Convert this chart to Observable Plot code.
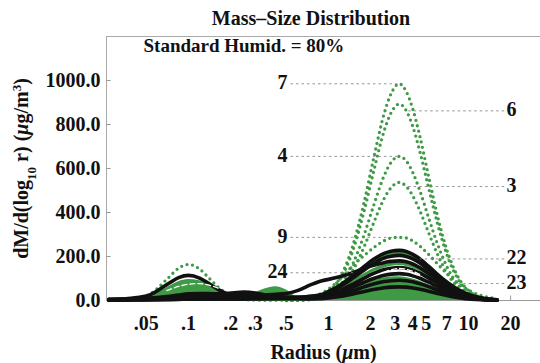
<!DOCTYPE html>
<html><head><meta charset="utf-8">
<script src="https://cdn.jsdelivr.net/npm/d3@7"></script>
<script src="https://cdn.jsdelivr.net/npm/@observablehq/plot@0.6"></script>
<style>
body{margin:0;background:#fff;}
#title{box-sizing:border-box;height:34px;padding-top:8px;margin-left:102px;width:418px;text-align:center;font:bold 20px/20px "Liberation Serif",serif;color:#111;white-space:nowrap;}
</style></head><body>
<div id="title">Mass–Size Distribution</div>
<div id="chart"></div>
<script>
// radius grid (µm)
const radius = [0.027,0.05,0.07,0.085,0.1,0.12,0.14,0.17,0.2,0.25,0.3,0.35,0.42,0.5,0.6,0.75,0.9,1.0,1.2,1.5,1.8,2.1,2.5,2.8,3.2,3.6,4.0,4.5,5.2,6.0,7.0,8.5,10.5,13,16];
const _ = null;
// green dotted series
const s7 = [_,_,_,_,_,_,_,_,_,_,_,_,_,0,1,7,22,40,101,254,449,645,850,940,985,949,871,745,562,386,231,103,35,10,2];
const s6 = [_,_,_,_,_,_,_,_,_,_,_,_,_,0,1,6,20,36,92,230,408,586,772,853,893,862,791,676,510,351,210,93,32,9,2];
const s4 = [_,_,_,_,_,_,_,_,_,_,_,_,_,0,1,5,14,27,67,170,300,431,568,628,655,634,582,498,375,258,155,69,24,6,1];
const s3 = [_,_,_,_,_,_,_,_,_,_,_,_,_,0,1,4,12,22,55,139,245,352,464,513,537,518,476,407,307,211,126,56,19,5,1];
const s9 = [0,22,96,147,164,143,102,51,22,5,2,1,1,2,6,16,34,52,95,160,205,240,272,284,287,284,271,247,209,167,123,77,40,19,8];
// green filled series
const gArea = [0,18,58,85,95,90,78,45,18,8,35,52,62,48,15,6,14,22,40,62,80,94,103,107,108,105,98,88,72,56,40,24,11,4,1];
// green solid series
const g1 = [0,2,4,5,6,6,6,5,5,5,5,4,4,4,5,10,20,32,62,108,146,176,203,212,215,210,198,178,146,113,79,45,21,9,3];
const g2 = [0,2,3,4,5,5,5,5,5,5,5,5,5,5,6,14,26,36,58,90,118,140,158,165,168,164,155,140,116,90,64,38,18,7,2];
// black series
const blk1 = [2,20,72,104,114,102,77,44,24,12,10,9,10,11,13,17,28,41,68,114,155,187,214,224,228,223,210,189,155,119,84,48,23,9,3];
const blk2 = [3,8,15,20,24,24,22,20,22,28,26,20,14,12,14,20,26,37,62,103,139,168,193,201,205,200,189,170,139,107,75,43,20,8,3];
const blk3 = [2,5,8,10,12,14,14,16,18,20,22,24,28,32,45,72,90,96,108,126,146,160,172,178,180,176,166,149,122,94,66,38,18,7,2];
const blk4 = [5,10,18,25,30,32,32,30,34,38,34,26,18,14,14,16,20,27,45,75,102,123,141,147,150,147,138,124,102,79,55,32,15,6,2];
const blk5 = [3,6,9,10,12,12,12,12,14,16,18,18,16,14,12,10,15,22,37,61,83,100,115,120,122,119,112,101,83,64,45,26,12,5,2];
const blk6 = [2,3,4,5,6,6,6,6,6,6,7,8,8,8,8,8,11,16,27,45,62,75,86,90,92,90,85,76,63,48,34,19,9,4,1];
const blk7 = [6,8,10,12,14,16,18,20,26,30,28,22,16,12,10,8,8,11,18,30,41,50,58,61,62,61,57,51,42,32,23,13,6,3,1];
// white dashed trace
const w1 = [_,_,45,64,74,77,70,52,_,_,_,_,_,_,_,_,_,_,_,_,_,_,128,140,146,142,133,118,_,_,_,_,_,_,_];

// axis ticks
const xTicks = [0.05,0.1,0.2,0.3,0.5,1,2,3,4,5,7,10,20];
const yTicks = [0,200,400,600,800,1000];

// curve labels
const labelNames = ["7","6","4","3","9","22","24","23"];
const labelSeries = ["7","6","4","3","9","blk1","blk3","9"];
const labelAtRadius = [3.2,3.6,3.2,3.6,3.2,4.5,1.5,8.5];
const labelSide = ["left","right","left","right","left","right","left","right"];

const GREEN = "#3f9a45";
const FONT = "'Liberation Serif', 'Times New Roman', serif";
const X_MIN = 0.02596, X_MAX = 32.7, Y_MAX = 1200;
const fmtX = d => d < 1 ? String(d).replace(/^0/, "") : String(d);

const series = [
  {name:"gArea", kind:"area", values:gArea},
  {name:"g1", kind:"green", values:g1},
  {name:"g2", kind:"green", values:g2},
  {name:"7", kind:"dot", values:s7},
  {name:"6", kind:"dot", values:s6},
  {name:"4", kind:"dot", values:s4},
  {name:"3", kind:"dot", values:s3},
  {name:"9", kind:"dot", values:s9},
  {name:"blk1", kind:"black", values:blk1},
  {name:"blk2", kind:"black", values:blk2},
  {name:"blk3", kind:"black", values:blk3},
  {name:"blk4", kind:"black", values:blk4},
  {name:"blk5", kind:"black", values:blk5},
  {name:"blk6", kind:"black", values:blk6},
  {name:"blk7", kind:"black", values:blk7},
  {name:"w1", kind:"white", values:w1}
];
const rows = series.flatMap(s => radius.map((r, i) => ({r, v: s.values[i], name: s.name, kind: s.kind})));
const of = k => rows.filter(d => d.kind === k);

const labels = labelNames.map((n, i) => {
  const s = series.find(d => d.name === labelSeries[i]);
  const r = labelAtRadius[i];
  const v = s.values[radius.indexOf(r)];
  const left = labelSide[i] === "left";
  return {name: n, r, v, left, textR: left ? 0.51 : 18.7, lineR: left ? 0.535 : 18.0};
});

const txt = {fontFamily: FONT, fontWeight: "bold", fontSize: 20, fill: "#111"};

const svg = Plot.plot({
  width: 540, height: 329,
  marginLeft: 106, marginRight: 0, marginTop: 2, marginBottom: 63,
  style: {fontFamily: FONT, fontSize: "20px", fontWeight: "bold", background: "#fff", color: "#111", overflow: "visible"},
  x: {type: "log", domain: [X_MIN, X_MAX], ticks: xTicks, tickSize: 0, tickPadding: 14,
      tickFormat: () => "",
      label: "Radius (μm)", labelAnchor: "center", labelOffset: 58, labelArrow: "none"},
  y: {domain: [0, Y_MAX], ticks: yTicks, tickSize: 0, tickPadding: 6, tickFormat: d3.format(".1f"),
      label: "dM/d(log10 r) (μg/m3)", labelAnchor: "center", labelOffset: 93, labelArrow: "none"},
  marks: [
    Plot.ruleY([Y_MAX], {stroke: "#aaa", strokeWidth: 1}),
    Plot.ruleX([X_MIN], {stroke: "#aaa", strokeWidth: 1}),
    Plot.ruleY([0], {stroke: "#999", strokeWidth: 1}),
    Plot.ruleX(xTicks, {y1: 0, y2: 20, stroke: "#999"}),
    Plot.ruleY(yTicks.filter(d => d > 0), {x1: X_MIN, x2: X_MIN * 1.08, stroke: "#999"}),
    Plot.text(xTicks, {x: d => d, y: 0, text: fmtX, dy: 23, lineAnchor: "middle", ...txt}),
    Plot.areaY(of("area"), {x: "r", y: "v", z: "name", fill: GREEN, curve: "monotone-x"}),
    Plot.line(of("green"), {x: "r", y: "v", z: "name", stroke: GREEN, strokeWidth: 3, curve: "monotone-x"}),
    Plot.line(of("dot"), {x: "r", y: "v", z: "name", stroke: GREEN, strokeWidth: 3.3, strokeDasharray: "0,5.6", strokeLinecap: "round", curve: "monotone-x"}),
    Plot.line(of("black"), {x: "r", y: "v", z: "name", stroke: "#111", strokeWidth: 3.6, curve: "monotone-x"}),
    Plot.line(of("white"), {x: "r", y: "v", z: "name", stroke: "#fff", strokeWidth: 1.3, strokeDasharray: "5,3", curve: "monotone-x"}),
    Plot.link(labels, {x1: "lineR", y1: "v", x2: "r", y2: "v", stroke: "#888", strokeWidth: 0.9, strokeDasharray: "2.5,3"}),
    Plot.text(labels.filter(d => d.left), {x: "textR", y: "v", text: "name", textAnchor: "end", dy: -1, ...txt}),
    Plot.text(labels.filter(d => !d.left), {x: "textR", y: "v", text: "name", textAnchor: "start", dy: -1, ...txt}),
    Plot.text(["Standard Humid. = 80%"], {frameAnchor: "top-left", text: d => d, dx: 37, dy: 2, lineAnchor: "top", textAnchor: "start", ...txt, fontSize: 19})
  ]
});
document.getElementById("chart").appendChild(svg);

// rich axis labels (subscript, superscript, italic mu)
const NS = "http://www.w3.org/2000/svg";
function rich(match, parts) {
  for (const t of svg.querySelectorAll("text")) {
    if (!t.textContent.includes(match)) continue;
    while (t.firstChild) t.removeChild(t.firstChild);
    for (const p of parts) {
      const s = document.createElementNS(NS, "tspan");
      s.textContent = p.t;
      if (p.sub) { s.setAttribute("baseline-shift", "sub"); s.setAttribute("font-size", "13"); }
      if (p.sup) { s.setAttribute("baseline-shift", "super"); s.setAttribute("font-size", "13"); }
      if (p.it) s.setAttribute("font-style", "italic");
      t.appendChild(s);
    }
  }
}
rich("dM/d", [{t: "dM/d(log"}, {t: "10", sub: true}, {t: " r) ("}, {t: "μ", it: true}, {t: "g/m"}, {t: "3", sup: true}, {t: ")"}]);
rich("Radius", [{t: "Radius ("}, {t: "μ", it: true}, {t: "m)"}]);
</script>
</body></html>
